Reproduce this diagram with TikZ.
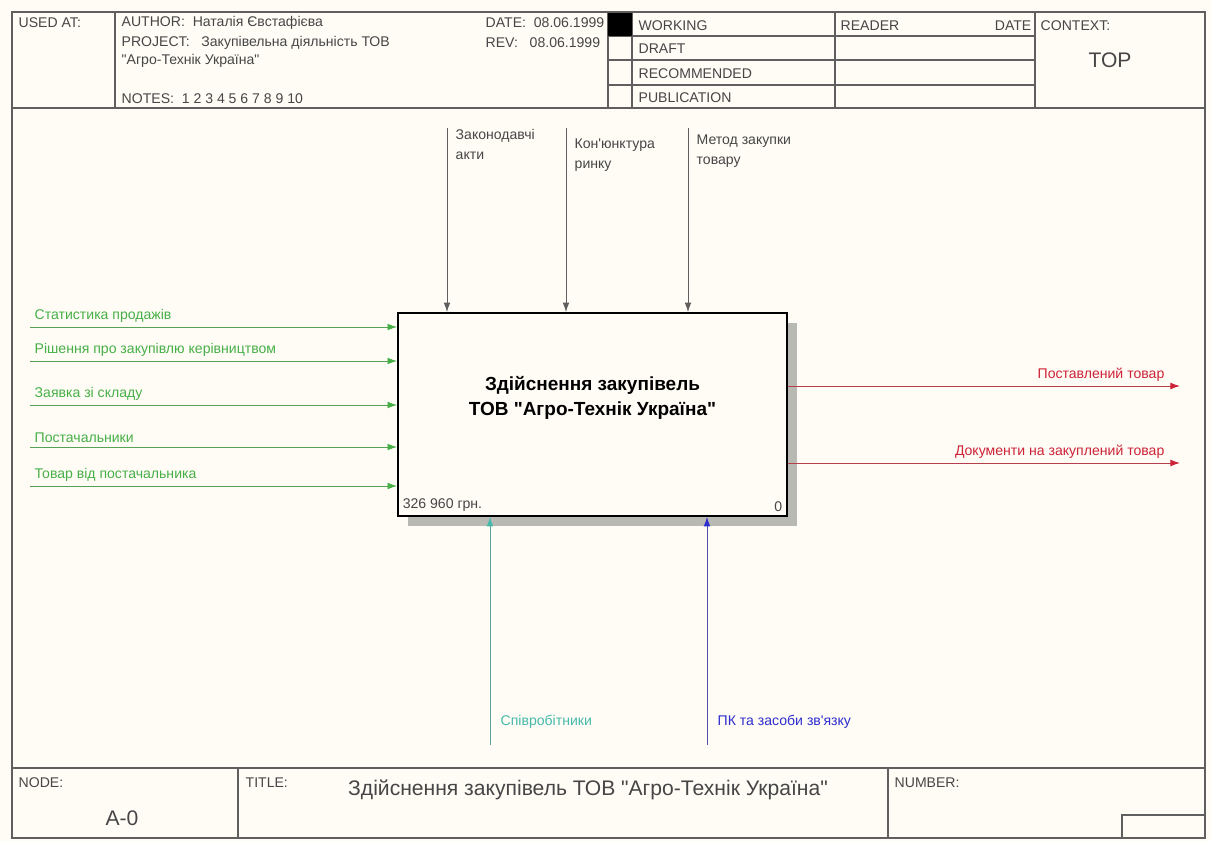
\documentclass[tikz,border=0pt]{standalone}
\usepackage{fontspec}
\setmainfont{Liberation Sans}
\usetikzlibrary{arrows.meta,positioning,calc}
\definecolor{idefPaper}{RGB}{255,252,246}
\definecolor{idefLine}{RGB}{95,95,95}
\definecolor{idefInk}{RGB}{70,70,70}
\definecolor{idefShadow}{RGB}{185,185,180}
\definecolor{idefInput}{RGB}{70,175,70}
\definecolor{idefOutput}{RGB}{205,35,55}
\definecolor{idefStaff}{RGB}{70,185,170}
\definecolor{idefTools}{RGB}{45,45,205}
\newcommand{\qt}{\textquotedbl}
\tikzset{
    idefFrame/.style={draw=idefLine, line width=0.8pt},
    idefForm/.style={font=\fontsize{10}{12}\selectfont, text=idefInk, anchor=west, inner sep=1pt},
    idefLabel/.style={font=\fontsize{10}{14}\selectfont, inner sep=1pt, align=left},
    idefBox/.style={
        rectangle,
        draw=black,
        line width=1.2pt,
        fill=idefPaper,
        minimum width=9.725cm,
        minimum height=5.075cm
    },
    idefTitle/.style={font=\bfseries\fontsize{13.5}{18}\selectfont, align=center},
    idefArrow/.style={-{Latex[length=2.4mm,width=1.7mm]}, line width=0.7pt}
}
\begin{document}
\begin{tikzpicture}[x=0.025cm, y=-0.025cm]
\useasboundingbox (0,0) rectangle (1211,841);
\fill[idefPaper] (0,0) rectangle (1211,841);

% Form frame
\draw[idefFrame] (12,12) rectangle (1205,838);
\draw[idefFrame] (12,108) -- (1205,108);
\draw[idefFrame] (12,768) -- (1205,768);
\foreach \x in {115, 608, 632, 835, 1035}
    \draw[idefFrame] (\x,12) -- (\x,108);
\foreach \y in {36, 60, 85}
    \draw[idefFrame] (608,\y) -- (1035,\y);
\fill[black] (608,13) rectangle (632,36);
\foreach \x in {238, 888}
    \draw[idefFrame] (\x,768) -- (\x,838);
\draw[idefFrame] (1122,838) |- (1205,815);

% Header texts
\node[idefForm] (usedAt) at (17,23) {USED AT:};
\node[idefForm] (author) at (120,23) {AUTHOR:\ \ Наталія Євстафієва};
\node[idefForm] (project) at (120,43) {PROJECT:\ \ \ Закупівельна діяльність ТОВ};
\node[idefForm] (project2) at (120,61) {\qt Агро-Технік Україна\qt};
\node[idefForm] (notes) at (120,99) {NOTES:\ \ 1\ 2\ 3\ 4\ 5\ 6\ 7\ 8\ 9\ 10};
\node[idefForm] (date) at (484,23) {DATE:\ \ 08.06.1999};
\node[idefForm] (rev) at (484,43) {REV:\ \ \ 08.06.1999};
\foreach \i/\w/\y in {0/WORKING/26, 1/DRAFT/49, 2/RECOMMENDED/74, 3/PUBLICATION/98}
    \node[idefForm] (status\i) at (637,\y) {\w};
\node[idefForm] (reader) at (839,26) {READER};
\node[idefForm, anchor=east] (readerDate) at (1033,26) {DATE};
\node[idefForm] (context) at (1039,26) {CONTEXT:};
\node[font=\fontsize{15}{17}\selectfont, text=idefInk] (top) at (1110,60) {TOP};

% Function box
\fill[idefShadow] (408,323) rectangle (797,526);
\node[idefBox] (fn) at (592.5,414.5) {};
\node[idefTitle] (fnTitle) at (592.5,398) {Здійснення закупівель\\ТОВ \qt Агро-Технік Україна\qt};
\node[idefForm, anchor=south west] (cost) at ($(fn.south west)+(4,-4)$) {326 960 грн.};
\node[idefForm, anchor=south east] (num) at ($(fn.south east)+(-4,-4)$) {0};

% Controls
\foreach \i/\x/\d/\w in {0/447/0/Законодавчі\\акти, 1/566/9/Кон\textquotesingle юнктура\\ринку, 2/688/5/Метод закупки\\товару} {
    \coordinate (ct\i) at (\x,128);
    \draw[idefArrow, idefLine] (ct\i) -- (ct\i |- fn.north);
    \node[idefLabel, text=idefInk, anchor=north west] (ctl\i) at ($(ct\i)+(7,\d)$) {\w};
}

% Inputs
\foreach \i/\y/\w in {0/327/Статистика продажів, 1/361/Рішення про закупівлю керівництвом, 2/405/Заявка зі складу, 3/447/Постачальники, 4/486/Товар від постачальника} {
    \coordinate (in\i) at (30,\y);
    \draw[idefArrow, idefInput!70!gray, -{Latex[length=2.4mm,width=1.7mm,color=idefInput]}] (in\i) -- (in\i -| fn.west);
    \node[idefLabel, text=idefInput, anchor=south west] (inl\i) at ($(in\i)+(3,-3)$) {\w};
}

% Outputs
\foreach \i/\y/\w in {0/386/Поставлений товар, 1/463/Документи на закуплений товар} {
    \coordinate (out\i) at (1180,\y);
    \draw[idefArrow, idefOutput!70!gray, -{Latex[length=2.4mm,width=1.7mm,color=idefOutput]}] (out\i -| fn.east) -- (out\i);
    \node[idefLabel, text=idefOutput, anchor=south east] (outl\i) at ($(out\i)+(-14,-3)$) {\w};
}

% Mechanisms
\foreach \i/\x/\c/\w in {0/490/idefStaff/Співробітники, 1/707/idefTools/ПК та засоби зв\textquotesingle язку} {
    \coordinate (mc\i) at (\x,745);
    \draw[idefArrow, \c!60!gray, -{Latex[length=2.4mm,width=1.7mm,color=\c]}] (mc\i) -- (mc\i |- fn.south);
    \node[idefLabel, text=\c, anchor=west] (mcl\i) at ($(mc\i)+(9,-23)$) {\w};
}

% Footer texts
\node[idefForm] (node) at (17,783) {NODE:};
\node[font=\fontsize{15}{17}\selectfont, text=idefInk] (nodeId) at (122,818) {A-0};
\node[idefForm] (title) at (244,783) {TITLE:};
\node[font=\fontsize{15}{17}\selectfont, text=idefInk] (titleText) at (588,790) {Здійснення закупівель ТОВ \qt Агро-Технік Україна\qt};
\node[idefForm] (number) at (893,783) {NUMBER:};
\end{tikzpicture}
\end{document}
